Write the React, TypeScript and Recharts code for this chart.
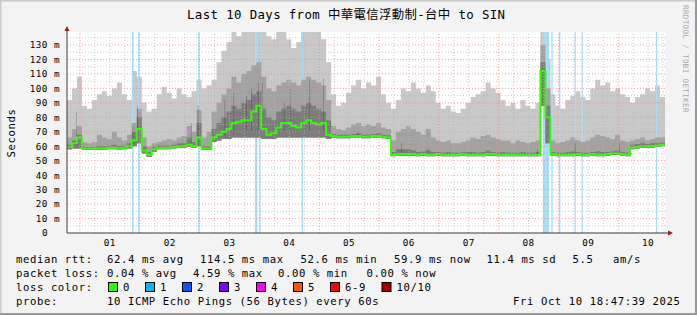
import React from "react";
import {
  ComposedChart,
  Area,
  Bar,
  Line,
  XAxis,
  YAxis,
  ReferenceLine,
  ReferenceArea,
} from "recharts";

const MONO = '"DejaVu Sans Mono", "Noto Sans CJK TC", monospace';

// x = hours since Sep 30 18:47:39, 10 days shown, values in 2h bins
const SPAN = 240;
const BIN = 2;
const FIRST_MIDNIGHT = 5.21;

const dayLabels = ["01", "02", "03", "04", "05", "06", "07", "08", "09", "10"];
const yTicks = [0, 10, 20, 30, 40, 50, 60, 70, 80, 90, 100, 110, 120, 130];

// median rtt (ms)
const median = [
  59.5, 62, 66, 58.5, 58.5, 58.5, 58.5, 58.5, 59, 59,
  58.5, 59, 60, 64, 72, 57, 54, 58, 59, 59,
  59, 59.5, 60, 60, 61, 60, 66, 58.5, 58.5, 66,
  68, 70, 72, 76, 77, 78, 78, 84, 88, 72,
  68, 69, 73, 76, 76, 74, 73, 76, 78, 76,
  75, 76, 68, 67, 66.5, 66.5, 66.5, 67, 67, 66.5,
  66.5, 67, 67, 66.5, 66, 54, 54.5, 54.5, 54.5, 54.5,
  54, 54.5, 54, 54, 54.5, 54, 54, 54, 54, 54.5,
  54, 54, 54, 54, 54.5, 54.5, 54, 54, 54, 54,
  54, 54, 54, 54, 54, 112, 80, 54.5, 54, 54,
  54, 54, 54.5, 54, 54, 54.5, 54, 54, 54.5, 55,
  55, 54.5, 54, 59, 59.5, 60, 60, 60, 60.5, 61,
];

// smoke: lowest ping
const smokeLow = [
  58, 58.5, 58.5, 57.5, 57.5, 57.5, 57.5, 57.5, 58, 58,
  57.5, 58, 58.5, 60, 62, 55, 52.6, 56, 58, 58,
  58, 58.5, 59, 59, 59.5, 59, 60, 57.5, 57.5, 63,
  64, 65, 65, 66, 66, 66, 66, 66, 66, 65,
  65, 65, 66, 66, 66, 66, 66, 66, 66, 66,
  66, 66, 65, 65.8, 65.5, 65.5, 65.5, 66, 66, 65.5,
  65.5, 66, 66, 65.5, 65, 53, 53.5, 53.5, 53.5, 53.5,
  53, 53.5, 53, 53, 53.5, 53, 53, 53, 53, 53.5,
  53, 53, 53, 53, 53.5, 53.5, 53, 53, 53, 53,
  53, 53, 53, 53, 53, 88, 62, 53.5, 53, 53,
  53, 53, 53.5, 53, 53, 53.5, 53, 53, 53.5, 54,
  54, 53.5, 53, 58, 58.5, 59, 59, 59, 59.5, 60,
];

// smoke: highest ping
const smokeHigh = [
  92, 100, 108, 88, 86, 92, 96, 98, 95, 100,
  104, 96, 92, 112, 108, 90, 84, 86, 96, 101,
  97, 93, 100, 96, 94, 98, 106, 100, 102, 106,
  118, 126, 132, 139, 136, 139, 139, 139, 139, 139,
  136, 134, 139, 139, 134, 128, 132, 139, 139, 139,
  139, 134, 118, 96, 88, 90, 97, 102, 106, 100,
  104, 102, 108, 96, 90, 86, 92, 100, 98, 104,
  100, 97, 102, 98, 90, 86, 88, 84, 83, 86,
  90, 94, 96, 98, 104, 100, 97, 92, 88, 90,
  86, 92, 88, 86, 90, 139, 120, 96, 88, 86,
  92, 95, 98, 94, 92, 100, 106, 102, 104, 98,
  100, 96, 94, 90, 94, 96, 100, 98, 102, 94,
];

// smoke: upper middle pings
const smokeMid = [
  66, 72, 74, 63, 62, 63, 68, 66, 65, 70,
  66, 64, 68, 76, 86, 66, 60, 62, 63, 64,
  65, 64, 66, 67, 74, 70, 85, 66, 70, 84,
  90, 96, 100, 108, 104, 110, 112, 116, 118, 108,
  100, 98, 102, 104, 106, 104, 102, 106, 108, 106,
  104, 102, 92, 74, 72, 71, 73, 75, 76, 74,
  75, 74, 76, 73, 72, 64, 70, 72, 74, 72,
  70, 68, 72, 66, 64, 63, 64, 62, 62, 63,
  64, 66, 65, 67, 68, 66, 65, 64, 64, 62,
  64, 63, 62, 63, 64, 130, 100, 64, 62, 63,
  64, 66, 64, 63, 64, 66, 68, 67, 66, 65,
  68, 64, 63, 64, 65, 66, 64, 65, 66, 66,
];

// smoke: pings close to the median
const smokeDeep = [
  61, 64, 68, 59.5, 59.5, 59.5, 60, 60, 60.5, 61,
  60, 60.5, 62, 70, 80, 60, 56, 59.5, 60.5, 60.5,
  60.5, 61, 62, 62, 66, 63, 76, 60, 60, 72,
  76, 80, 84, 88, 86, 90, 92, 96, 98, 86,
  80, 78, 84, 86, 88, 86, 84, 88, 90, 88,
  86, 84, 78, 68.5, 68, 68, 68, 68.5, 69, 68,
  68, 68.5, 69, 68, 67.5, 56, 58, 58, 58, 57,
  56, 56.5, 57, 56, 56, 55.5, 56, 55.5, 55.5, 56,
  56, 56, 55.5, 56, 57, 56, 55.5, 56, 55.5, 55.5,
  55.5, 56, 55.5, 55.5, 56, 118, 88, 56, 55.5, 55.5,
  56, 56.5, 56, 55.5, 55.5, 56, 56.5, 56, 56, 56.5,
  57, 56, 55.5, 61, 61.5, 62, 61.5, 62, 62, 62.5,
];

// short dark spikes (hours, from, to)
const spikeTimes = [3.8, 26.5, 28.3, 49.8, 52.6, 63.4, 67.0, 72.2, 74.2, 76.7, 78.3, 87.1, 89.5, 97.5, 103.1, 116.8, 134.4, 144.9, 189.0, 203.9, 221.9];
const spikeFrom = [59, 60, 62, 60, 60, 67, 68, 70, 70, 72, 72, 70, 70, 70, 70, 66, 54, 54, 54, 54, 54];
const spikeTo = [84, 74, 88, 76, 88.6, 92, 96.7, 95, 100, 104, 103.5, 91, 100, 106, 107, 70, 62, 58, 58, 62.5, 62];

// packet loss periods (hours)
const lossStart = [26.1, 28.5, 52.6, 75.4, 77.2, 94.2, 191.0, 194.4, 197.4, 203.7, 206.5, 236.4];
const lossEnd = [26.7, 29.1, 53.2, 76.4, 77.7, 94.7, 193.5, 194.9, 198.0, 204.2, 207.0, 236.9];

const lossLegend = [
  { label: "0", color: "#26ff00" },
  { label: "1", color: "#00b8ff" },
  { label: "2", color: "#0059ff" },
  { label: "3", color: "#7e00ff" },
  { label: "4", color: "#ff00ff" },
  { label: "5", color: "#ff5500" },
  { label: "6-9", color: "#ff0000" },
  { label: "10/10", color: "#a10000" },
];
const lossLegendX = [108, 145, 182, 219, 256, 293, 330, 381.5];

type Row = {
  t: number;
  light?: [number, number];
  mid?: [number, number];
  deep?: [number, number];
  med?: number;
  spike?: [number, number];
};

const rows: Row[] = median.map((m, i) => ({
  t: i * BIN,
  light: [smokeLow[i], smokeHigh[i]],
  mid: [smokeLow[i], smokeMid[i]],
  deep: [smokeLow[i], smokeDeep[i]],
  med: m,
}));
const last = rows[rows.length - 1];
rows.push({ ...last, t: SPAN });
spikeTimes.forEach((t, k) => rows.push({ t, spike: [spikeFrom[k], spikeTo[k]] }));
rows.sort((a, b) => a.t - b.t);

const dayNoons = dayLabels.map((_, i) => FIRST_MIDNIGHT + 12 + 24 * i);
const sixHours: number[] = [];
for (let t = FIRST_MIDNIGHT; t < SPAN; t += 6) sixHours.push(t);
const minorY = yTicks.map((v) => v + 5);

const YTick = (p: any) => {
  const v = p.payload.value;
  return (
    <text
      x={v === 0 ? p.x - 19 : p.x - 7}
      y={p.y + 3.4}
      textAnchor="end"
      fontFamily={MONO}
      fontSize={9.3}
      letterSpacing={0.45}
      fill="#000"
    >
      {v === 0 ? "0" : `${v} m`}
    </text>
  );
};

const XTick = (p: any) => {
  const idx = dayNoons.findIndex((d) => Math.abs(d - p.payload.value) < 0.01);
  return (
    <text x={p.x} y={p.y + 13} textAnchor="middle" fontFamily={MONO} fontSize={9.3} letterSpacing={0.45} fill="#000">
      {dayLabels[idx]}
    </text>
  );
};

const legendText = {
  fontFamily: MONO,
  fontSize: 10.6,
  letterSpacing: 0.6,
  fill: "#000",
} as const;

export default function App() {
  return (
    <div style={{ position: "fixed", left: 0, top: 0, width: 697, height: 315, background: "#f3f3f3" }}>
      <div style={{ position: "absolute", left: 67, top: 32, width: 598, height: 201, background: "#fff" }} />
      <div style={{ position: "absolute", left: 0, top: 0 }}>
        <ComposedChart width={697} height={315} data={rows} margin={{ top: 32, right: 32, bottom: 52, left: 7 }}>
          <XAxis
            dataKey="t"
            type="number"
            domain={[0, SPAN]}
            ticks={dayNoons}
            interval={0}
            height={30}
            tickSize={0}
            tickMargin={0}
            tickLine={false}
            axisLine={{ stroke: "#3a3a3a" }}
            tick={<XTick />}
            allowDataOverflow
          />
          <YAxis
            type="number"
            domain={[0, 139]}
            ticks={yTicks}
            interval={0}
            width={60}
            tickSize={0}
            tickMargin={0}
            tickLine={false}
            axisLine={{ stroke: "#3a3a3a" }}
            tick={<YTick />}
            allowDataOverflow
          />
          <Area dataKey="light" type="stepAfter" stroke="none" fill="#c8c8c8" fillOpacity={1} connectNulls dot={false} activeDot={false} isAnimationActive={false} />
          {lossStart.map((s, i) => (
            <ReferenceArea key={`loss${i}`} x1={s} x2={lossEnd[i]} fill="#a6ddf8" fillOpacity={1} stroke="none" />
          ))}
          <Area dataKey="mid" type="stepAfter" stroke="none" fill="#a2a2a2" fillOpacity={1} connectNulls dot={false} activeDot={false} isAnimationActive={false} />
          <Area dataKey="deep" type="stepAfter" stroke="none" fill="#7c7c7c" fillOpacity={1} connectNulls dot={false} activeDot={false} isAnimationActive={false} />
          <Bar dataKey="spike" barSize={2} fill="#1c1c1c" isAnimationActive={false} />
          <Line dataKey="med" type="stepAfter" stroke="#2bff00" strokeWidth={2} connectNulls dot={false} activeDot={false} isAnimationActive={false} />
          {minorY.map((v) => (
            <ReferenceLine key={`ym${v}`} y={v} stroke="#b8b8b8" strokeOpacity={0.7} strokeDasharray="1 2" />
          ))}
          {yTicks.slice(1).map((v) => (
            <ReferenceLine key={`yM${v}`} y={v} stroke="#ff8080" strokeOpacity={0.75} strokeDasharray="1 2" />
          ))}
          {sixHours.map((t, k) => (
            <ReferenceLine
              key={`x${k}`}
              x={t}
              stroke={k % 4 === 0 ? "#ff8080" : "#b8b8b8"}
              strokeOpacity={0.75}
              strokeDasharray="1 2"
            />
          ))}
        </ComposedChart>
      </div>
      <svg width={697} height={315} style={{ position: "absolute", left: 0, top: 0, pointerEvents: "none" }}>
        <line x1={0.5} y1={0} x2={0.5} y2={315} stroke="#cbcbcb" strokeWidth={2} />
        <line x1={0} y1={0.5} x2={697} y2={0.5} stroke="#cbcbcb" strokeWidth={2} />
        <line x1={696} y1={0} x2={696} y2={315} stroke="#999" strokeWidth={2} />
        <line x1={0} y1={314} x2={697} y2={314} stroke="#999" strokeWidth={2} />

        <line x1={67} y1={32} x2={67} y2={30} stroke="#3a3a3a" />
        <polygon points="67,26 64.5,31 69.5,31" fill="#a01818" />
        <line x1={665} y1={233} x2={668} y2={233} stroke="#3a3a3a" />
        <polygon points="673,233 668,230.5 668,235.5" fill="#a01818" />

        <text x={187} y={19} fontFamily={MONO} fontSize={12.4} letterSpacing={0.37} fill="#000">
          Last 10 Days from 中華電信浮動制-台中 to SIN
        </text>
        <text transform="translate(15,133) rotate(-90)" textAnchor="middle" {...legendText}>
          Seconds
        </text>
        <text transform="translate(683,5) rotate(90)" fontFamily={MONO} fontSize={7.6} letterSpacing={0.33} fill="#a8a8a8">
          RRDTOOL / TOBI OETIKER
        </text>

        <text x={16} y={263} {...legendText}>median rtt:</text>
        <text x={107} y={263} {...legendText}>62.4 ms avg</text>
        <text x={200} y={263} {...legendText}>114.5 ms max</text>
        <text x={300.5} y={263} {...legendText}>52.6 ms min</text>
        <text x={394} y={263} {...legendText}>59.9 ms now</text>
        <text x={486.5} y={263} {...legendText}>11.4 ms sd</text>
        <text x={572.5} y={263} {...legendText}>5.5</text>
        <text x={613} y={263} {...legendText}>am/s</text>

        <text x={16} y={277} {...legendText}>packet loss:</text>
        <text x={107} y={277} {...legendText}>0.04 % avg</text>
        <text x={193} y={277} {...legendText}>4.59 % max</text>
        <text x={278} y={277} {...legendText}>0.00 % min</text>
        <text x={366.5} y={277} {...legendText}>0.00 % now</text>

        <text x={16} y={291} {...legendText}>loss color:</text>
        {lossLegend.map((l, i) => (
          <g key={l.label}>
            <rect x={lossLegendX[i] + 0.5} y={282.5} width={9} height={9} fill={l.color} stroke="#000" strokeWidth={1} />
            <text x={lossLegendX[i] + 15} y={291} {...legendText}>{l.label}</text>
          </g>
        ))}

        <text x={16} y={305} {...legendText}>probe:</text>
        <text x={107} y={305} {...legendText}>10 ICMP Echo Pings (56 Bytes) every 60s</text>
        <text x={513} y={305} {...legendText}>Fri Oct 10 18:47:39 2025</text>
      </svg>
    </div>
  );
}
